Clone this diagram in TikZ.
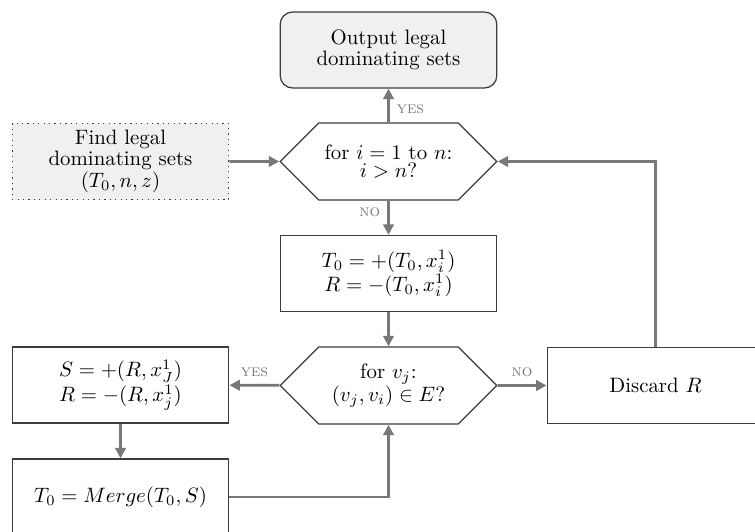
\documentclass[tikz,border=0pt]{standalone}
\usepackage{amsmath,amssymb}
\usepackage{tikz}
\usetikzlibrary{positioning,shapes.symbols,arrows.meta}
\usepackage{xcolor}
\definecolor{boxfill}{HTML}{F0F0F0}
\definecolor{linkgray}{HTML}{787878}
\definecolor{edgegray}{HTML}{3C3C3C}

\begin{document}
\begin{tikzpicture}[x=0.48pt,y=-0.48pt,
    block/.style={draw=edgegray, line width=.6pt, minimum width=104pt, minimum height=36.5pt, align=center, inner sep=2pt, font=\fontsize{10}{8.5}\selectfont},
    decision/.style={signal, signal to=west and east, signal pointer angle=90, draw=edgegray, line width=.6pt, minimum width=104pt, minimum height=37pt, align=center, inner sep=1pt, font=\fontsize{10}{8.5}\selectfont},
    link/.style={draw=linkgray, line width=1.3pt, -{Triangle[length=5pt,width=5pt]}},
    answer/.style={text=linkgray, font=\footnotesize\scshape}]
  \useasboundingbox (0,0) rectangle (755,532);
  % boxes
  \node[block, rounded corners=6pt, fill=boxfill] (output) at (388.5,50) {Output legal\\dominating sets};
  \node[decision] (loop) at (388.5,161.5) {for $i=1$ to $n$:\\$i>n$?};
  \node[block, dotted, fill=boxfill] (find) at (120.5,161.5) {Find legal\\dominating sets\\$(T_0,n,z)$};
  \node[block] (take) at (388.5,273.5) {$T_0=+(T_0,x_i^1)$\\$R=-(T_0,x_i^1)$};
  \node[decision] (check) at (388.5,385.5) {for $v_j$:\\$(v_j,v_i)\in E$?};
  \node[block] (split) at (120.5,385) {$S=+(R,x_J^1)$\\$R=-(R,x_j^1)$};
  \node[block] (merge) at (120.5,497) {$T_0=Merge(T_0,S)$};
  \node[block] (discard) at (655.5,385.5) {Discard $R$};
  % arrows
  \draw[link] (find) -- (loop);
  \draw[link] (loop) -- node[answer, right, pos=.4] {yes} (output);
  \draw[link] (loop) -- node[answer, left, pos=.35] {no} (take);
  \draw[link] (take) -- (check);
  \draw[link] (check) -- node[answer, above] {yes} (split);
  \draw[link] (check) -- node[answer, above] {no} (discard);
  \draw[link] (split) -- (merge);
  \draw[link] (merge) -| (check);
  \draw[link] (discard) |- (loop);
\end{tikzpicture}
\end{document}
